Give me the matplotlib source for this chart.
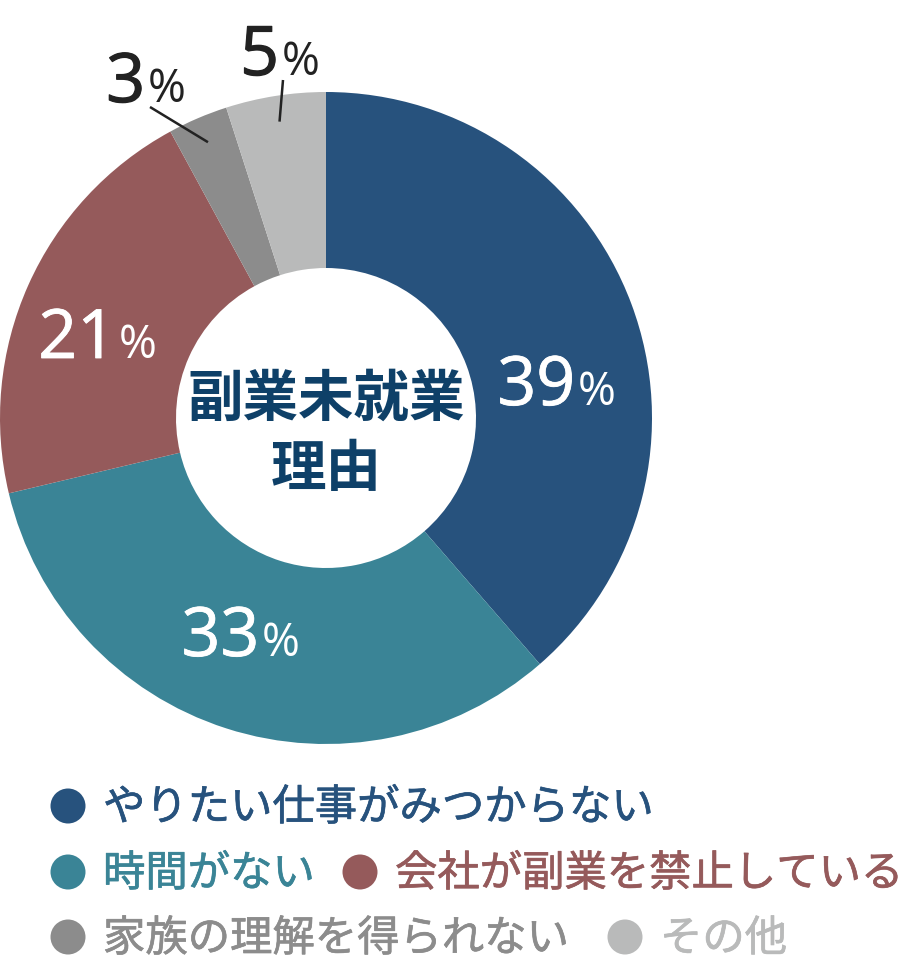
import numpy as np
import matplotlib
matplotlib.use("Agg")
import matplotlib.pyplot as plt
import matplotlib.patheffects as pe
from matplotlib.patches import Circle

# ---- data ----
categories = ["やりたい仕事がみつからない", "時間がない", "会社が副業を禁止している",
              "家族の理解を得られない", "その他"]
values = [39, 33, 21, 3, 5]
colors = ["#27527d", "#3a8496", "#955a5b", "#8c8c8c", "#b9baba"]
center_title = ["副業未就業", "理由"]

W, H = 911, 967
fig = plt.figure(figsize=(W / 100, H / 100), dpi=100)
ax = fig.add_axes([0, 0, 1, 1])

def Y(y):
    return H - y

CX, CY, R, RIN = 326, 418, 326, 150
wedges, _ = ax.pie(values, colors=colors, startangle=90, counterclock=False,
                   center=(CX, Y(CY)), radius=R,
                   wedgeprops=dict(width=R - RIN, linewidth=0))
ax.set_xlim(0, W)
ax.set_ylim(0, H)
ax.set_aspect("auto")
ax.axis("off")

NUM_FONT = "Open Sans"
JP = ["Noto Sans CJK JP", "DejaVu Sans"]

# percent labels: (right edge of number, baseline, color, stroke width)
label_pos = [(575, 405, "white", 0.6), (259, 656, "white", 0.6),
             (116, 358, "white", 0.6),
             (145, 102, "#222222", 0.9), (279, 75, "#222222", 0.9)]
for v, (xr, yb, c, sw) in zip(values, label_pos):
    eff = [pe.withStroke(linewidth=sw, foreground=c)]
    ax.text(xr, Y(yb), str(v), fontsize=49, family=NUM_FONT, color=c,
            ha="right", va="baseline", path_effects=eff)
    ax.text(xr + 3, Y(yb), "%", fontsize=33, family=NUM_FONT, color=c,
            ha="left", va="baseline")

# leader lines for small slices
text_ends = {3: (150, 107), 4: (283, 80)}
for i, (tx, ty) in text_ends.items():
    w = wedges[i]
    mid = np.deg2rad((w.theta1 + w.theta2) / 2)
    px = CX + 300 * np.cos(mid)
    py = Y(CY) + 300 * np.sin(mid)
    ax.plot([tx, px], [Y(ty), py], color="#222222", lw=1.8,
            solid_capstyle="butt")

# center title
ax.text(CX, Y(400), center_title[0], fontsize=40, fontweight="bold",
        family=JP, color="#0e4068", ha="center", va="center")
ax.text(CX, Y(470), center_title[1], fontsize=40, fontweight="bold",
        family=JP, color="#0e4068", ha="center", va="center")

# legend
legend_layout = [(68, 806), (68, 872), (360, 872), (68, 937), (625, 937)]
for cat, col, (lx, ly) in zip(categories, colors, legend_layout):
    ax.add_patch(Circle((lx, Y(ly)), 17.5, color=col, lw=0))
    ax.text(lx + 35, Y(ly) - 2, cat, fontsize=30.5, family=JP, color=col,
            ha="left", va="center",
            path_effects=[pe.withStroke(linewidth=0.5, foreground=col)])

fig.savefig("out.png", dpi=100)
